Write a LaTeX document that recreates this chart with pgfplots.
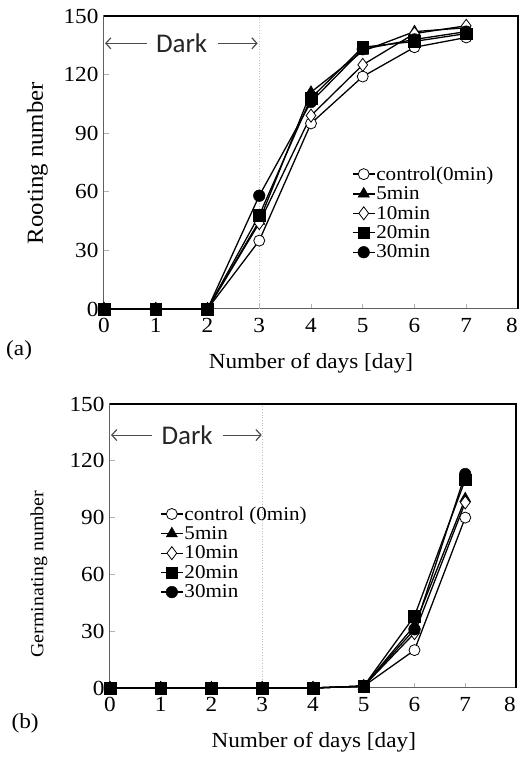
\documentclass[border=0pt]{standalone}
\usepackage{fontspec}
\setmainfont{Liberation Serif}[FakeStretch=1.08]
\newfontfamily\darkfont{Carlito}
\usepackage{pgfplots}
\pgfplotsset{compat=1.18}
\usetikzlibrary{arrows.meta}

\pgfplotsset{
 myaxis/.style={
  scale only axis,
  xmin=0,xmax=8,ymin=0,ymax=150,
  xtick={0,...,7}, ytick={0,30,...,150},
  extra x ticks={8},
  extra x tick style={xticklabel style={xshift=-6pt}},
  xtick pos=bottom, ytick pos=left,
  tick align=inside,
  major tick length=5pt,
  tick style={gray!60, line width=0.6pt},
  axis line style={draw=gray!75!black, line width=1pt},
  /pgf/number format/assume math mode=true,
  tick label style={font=\fontsize{21.5}{24}\selectfont},
  label style={font=\fontsize{21.5}{24}\selectfont},
  xticklabel style={yshift=-6pt},
  yticklabel style={xshift=-2pt},
  clip=false,
  legend cell align=left,
  legend style={draw=none, fill=none, font=\fontsize{19.5}{21}\selectfont, inner sep=0pt, row sep=3pt, nodes={inner sep=1pt}},
  legend image code/.code={\draw[mark repeat=2,mark phase=2,##1] plot coordinates {(0pt,0pt) (11pt,0pt) (22pt,0pt)};},
 },
 s0/.style={black, line width=1.3pt, mark=*, mark size=5.5pt, mark options={fill=white, draw=black, line width=0.8pt}},
 s5/.style={black, line width=1.3pt, mark=triangle*, mark size=6.5pt, mark options={fill=black, line width=0.5pt}},
 s10/.style={black, line width=1.3pt, mark=diamond*, mark size=6.5pt, mark options={fill=white, draw=black, line width=0.8pt}},
 s20/.style={black, line width=1.3pt, mark=square*, mark size=5.8pt, mark options={fill=black, line width=0.5pt}},
 s30/.style={black, line width=1.3pt, mark=*, mark size=5.8pt, mark options={fill=black, line width=0.5pt}},
}

\begin{document}
\begin{tikzpicture}[x=1pt,y=1pt]
\useasboundingbox (0,0) rectangle (521,761);

% ---------- (a) ----------
\begin{axis}[myaxis,
  at={(104pt,452pt)}, anchor=south west,
  width=414pt, height=293pt,
  xlabel={Number of days [day]},
  ylabel={Rooting number},
  xlabel style={at={(axis description cs:0.5,-0.184)}, anchor=center},
  ylabel style={at={(axis description cs:-0.161,0.498)}, anchor=center, font=\fontsize{23}{26}\selectfont},
  legend style={at={(axis cs:4.79,73.5)}, anchor=north west},
]
\draw[gray!50, dotted, line width=0.7pt] (axis cs:3,0) -- (axis cs:3,150);
\addplot[s0] coordinates {(0,0) (1,0) (2,0) (3,35) (4,95) (5,119) (6,134) (7,139)};
\addplot[s5] coordinates {(0,0) (1,0) (2,0) (3,45) (4,111) (5,132) (6,142) (7,144)};
\addplot[s10] coordinates {(0,0) (1,0) (2,0) (3,44) (4,99) (5,125) (6,141) (7,145)};
\addplot[s20] coordinates {(0,0) (1,0) (2,0) (3,48) (4,108) (5,134) (6,137) (7,141)};
\addplot[s30] coordinates {(0,0) (1,0) (2,0) (3,58) (4,106) (5,133) (6,138) (7,142)};
\legend{control(0min),5min,10min,20min,30min}
\draw[black, line width=1.3pt] (rel axis cs:0,1) -- (rel axis cs:1,1) -- (rel axis cs:1,0);
\draw[gray!60!black, line width=0.9pt, -{Straight Barb[length=5pt,width=11pt,line width=1.2pt]}] (axis cs:0.83,136) -- (axis cs:0.02,136);
\draw[gray!60!black, line width=0.9pt, -{Straight Barb[length=5pt,width=11pt,line width=1.2pt]}] (axis cs:2.2,136) -- (axis cs:2.97,136);
\node[font=\darkfont\fontsize{27}{29}\selectfont, text=black!85] at (axis cs:1.50,136) {Dark};
\node[font=\fontsize{21.5}{24}\selectfont] at (rel axis cs:-0.205,-0.14) {(a)};
\end{axis}

% ---------- (b) ----------
\begin{axis}[myaxis,
  at={(110pt,73pt)}, anchor=south west,
  width=406pt, height=284pt,
  xlabel={Number of days [day]},
  ylabel={Germinating number},
  xlabel style={at={(axis description cs:0.502,-0.19)}, anchor=center},
  ylabel style={at={(axis description cs:-0.175,0.40)}, anchor=center, font=\fontsize{18.5}{22}\selectfont},
  legend style={at={(axis cs:0.985,96.5)}, anchor=north west},
]
\draw[gray!50, dotted, line width=0.7pt] (axis cs:3,0) -- (axis cs:3,150);
\addplot[s0] coordinates {(0,0) (1,0) (2,0) (3,0) (4,0) (5,1) (6,20) (7,90)};
\addplot[s5] coordinates {(0,0) (1,0) (2,0) (3,0) (4,0) (5,1) (6,33) (7,100)};
\addplot[s10] coordinates {(0,0) (1,0) (2,0) (3,0) (4,0) (5,1) (6,29) (7,98)};
\addplot[s20] coordinates {(0,0) (1,0) (2,0) (3,0) (4,0) (5,1) (6,38) (7,110)};
\addplot[s30] coordinates {(0,0) (1,0) (2,0) (3,0) (4,0) (5,1) (6,31) (7,113)};
\legend{control (0min),5min,10min,20min,30min}
\draw[black, line width=1.3pt] (rel axis cs:0,1) -- (rel axis cs:1,1) -- (rel axis cs:1,0);
\draw[gray!60!black, line width=0.9pt, -{Straight Barb[length=5pt,width=11pt,line width=1.2pt]}] (axis cs:0.83,133.6) -- (axis cs:0.02,133.6);
\draw[gray!60!black, line width=0.9pt, -{Straight Barb[length=5pt,width=11pt,line width=1.2pt]}] (axis cs:2.22,133.6) -- (axis cs:2.99,133.6);
\node[font=\darkfont\fontsize{27}{29}\selectfont, text=black!85] at (axis cs:1.52,133.6) {Dark};
\node[font=\fontsize{21.5}{24}\selectfont] at (rel axis cs:-0.209,-0.123) {(b)};
\end{axis}
\end{tikzpicture}
\end{document}
